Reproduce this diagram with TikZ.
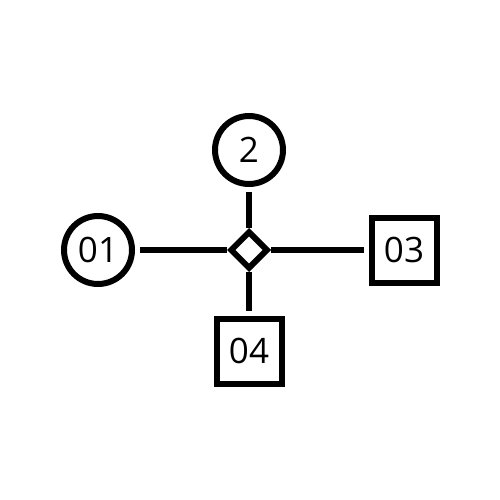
\documentclass[tikz,border=0pt]{standalone}
\usepackage{fontspec}
\setmainfont{Open Sans}
\usetikzlibrary{positioning,shapes.geometric}

\begin{document}
\begin{tikzpicture}[line width=6pt,
    roundbox/.style={draw, circle, inner sep=0pt, minimum size=68pt, font=\fontsize{35}{40}\selectfont},
    squarebox/.style={draw, rectangle, inner sep=0pt, minimum size=65pt, font=\fontsize{35}{40}\selectfont},
    hub/.style={draw, diamond, inner sep=0pt, minimum size=38pt}]
        \useasboundingbox (0pt,0pt) rectangle (500pt,-500pt);
        \node[hub] (d) at (249pt,-250pt) {};
        \node[roundbox, on grid, above = 100pt of d] (two) {2};
        \node[roundbox, on grid, left = 151pt of d] (one) {01};
        \node[squarebox, on grid, right = 155pt of d] (three) {03};
        \node[squarebox, on grid, below = 101pt of d] (four) {04};

        \draw [shorten <=5pt] (two) -- (d);
        \draw [shorten <=5pt] (one) -- (d);
        \draw [shorten <=5pt] (three) -- (d);
        \draw [shorten <=5pt] (four) -- (d);
\end{tikzpicture}
\end{document}
